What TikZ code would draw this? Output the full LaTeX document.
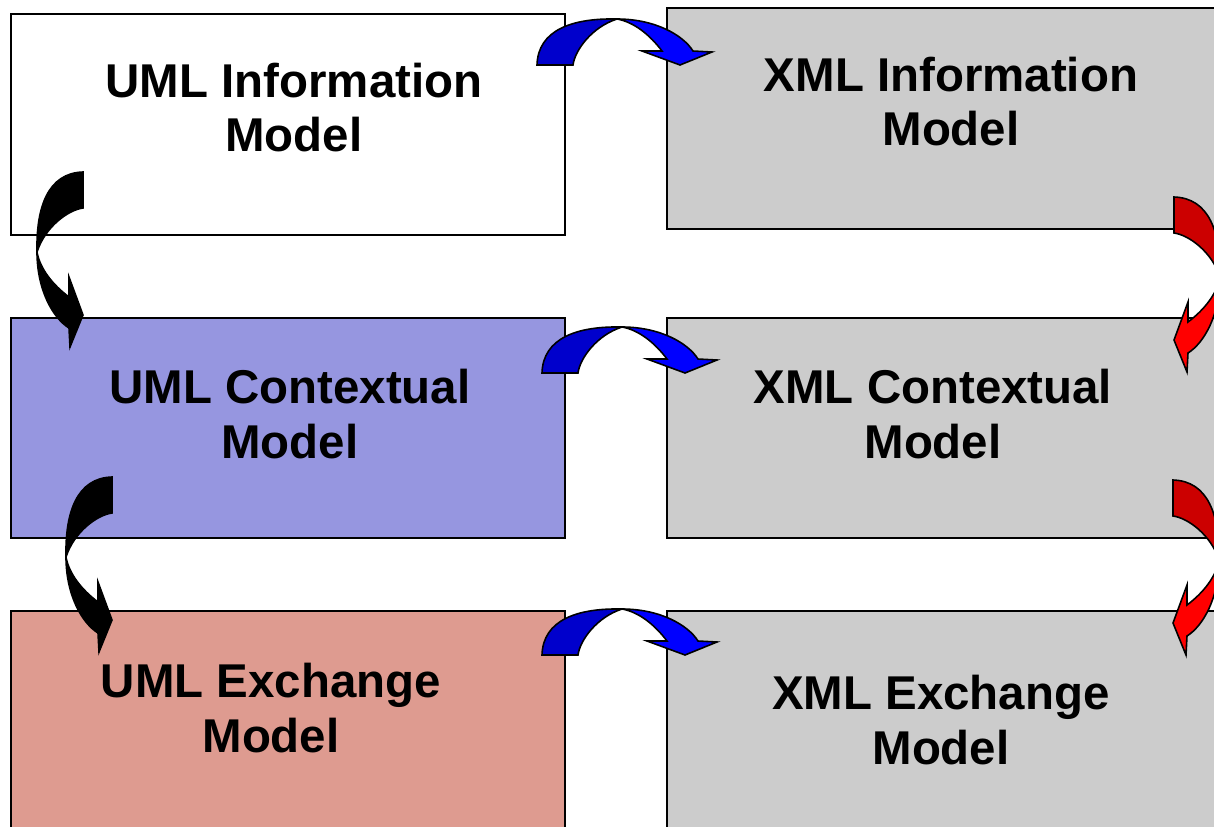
\documentclass[tikz,border=0pt]{standalone}
\usepackage{fontspec}
\setmainfont{Liberation Sans}

\definecolor{ctxfill}{RGB}{150,150,224}
\definecolor{exfill}{RGB}{222,155,144}
\definecolor{xmlfill}{RGB}{204,204,204}
\definecolor{bluedark}{RGB}{0,0,204}
\definecolor{bluelight}{RGB}{0,0,255}
\definecolor{reddark}{RGB}{204,0,0}
\definecolor{redlight}{RGB}{255,0,0}

% Curved band arrow: back half (#1) rising from the foot, front half (#2) ending in the head.
% Local pixel units, outer foot corner at the origin, y pointing down.
\newcommand\bentarrowshape[2]{%
  \filldraw[fill=#1,arrowline]
    (0,0) .. controls (1,-35) and (35,-47) .. (80,-46)
    .. controls (55,-38) and (38,-15) .. (36,0) -- cycle;
  \filldraw[fill=#2,arrowline]
    (80,-46) .. controls (118,-46) and (146,-30) .. (156,-14)
    -- (175,-13) -- (143,0) -- (105,-14) -- (125,-14)
    .. controls (113,-30) and (97,-43) .. (80,-46) -- cycle;
}

\begin{document}
\begin{tikzpicture}[x=0.02cm,y=-0.02cm,
  box/.style={draw=black,line width=1pt,rectangle,inner sep=0pt},
  lbl/.style={align=center,inner sep=0pt,text=black,
    font=\fontsize{27pt}{31.2pt}\selectfont\bfseries},
  arrowline/.style={draw=black,line width=0.9pt,line join=miter}]

\useasboundingbox (0,0) rectangle (1214,826);
\clip (0,0) rectangle (1214,826);

% model boxes
\node[box,fill=white,minimum width=11.08cm,minimum height=4.42cm] (uinfo) at (288,124.5) {};
\node[box,fill=xmlfill,minimum width=11.46cm,minimum height=4.42cm] (xinfo) at (953.5,118.5) {};
\node[box,fill=ctxfill,minimum width=11.08cm,minimum height=4.40cm] (ucont) at (288,428) {};
\node[box,fill=xmlfill,minimum width=11.46cm,minimum height=4.40cm] (xcont) at (953.5,428) {};
\node[box,fill=exfill,minimum width=11.08cm,minimum height=4.78cm] (uexch) at (288,730.5) {};
\node[box,fill=xmlfill,minimum width=11.46cm,minimum height=4.78cm] (xexch) at (953.5,730.5) {};

% box titles
\node[lbl] (uinfot) at (294,107.5) {UML Information\\Model};
\node[lbl] (xinfot) at (951,101.5) {XML Information\\Model};
\node[lbl] (ucontt) at (290,414) {UML Contextual\\Model};
\node[lbl] (xcontt) at (933,414) {XML Contextual\\Model};
\node[lbl] (uexcht) at (271,708) {UML Exchange\\Model};
\node[lbl] (xexcht) at (941,720) {XML Exchange\\Model};

% UML -> XML (blue, arching over the gap)
\begin{scope}[shift={(537,65)}]\bentarrowshape{bluedark}{bluelight}\end{scope}
\begin{scope}[shift={(542,373)}]\bentarrowshape{bluedark}{bluelight}\end{scope}
\begin{scope}[shift={(542,655)}]\bentarrowshape{bluedark}{bluelight}\end{scope}

% UML refinement steps (black, bulging to the left)
\begin{scope}[cm={0,-1,-1,0,(83,172)}]\bentarrowshape{black}{black}\end{scope}
\begin{scope}[cm={0,-1,-1,0,(112,477)}]\bentarrowshape{black}{black}\end{scope}

% XML refinement steps (red, bulging to the right)
\begin{scope}[cm={0,-1,1,0,(1174,197)}]\bentarrowshape{reddark}{redlight}\end{scope}
\begin{scope}[cm={0,-1,1,0,(1173,480)}]\bentarrowshape{reddark}{redlight}\end{scope}

\end{tikzpicture}
\end{document}
